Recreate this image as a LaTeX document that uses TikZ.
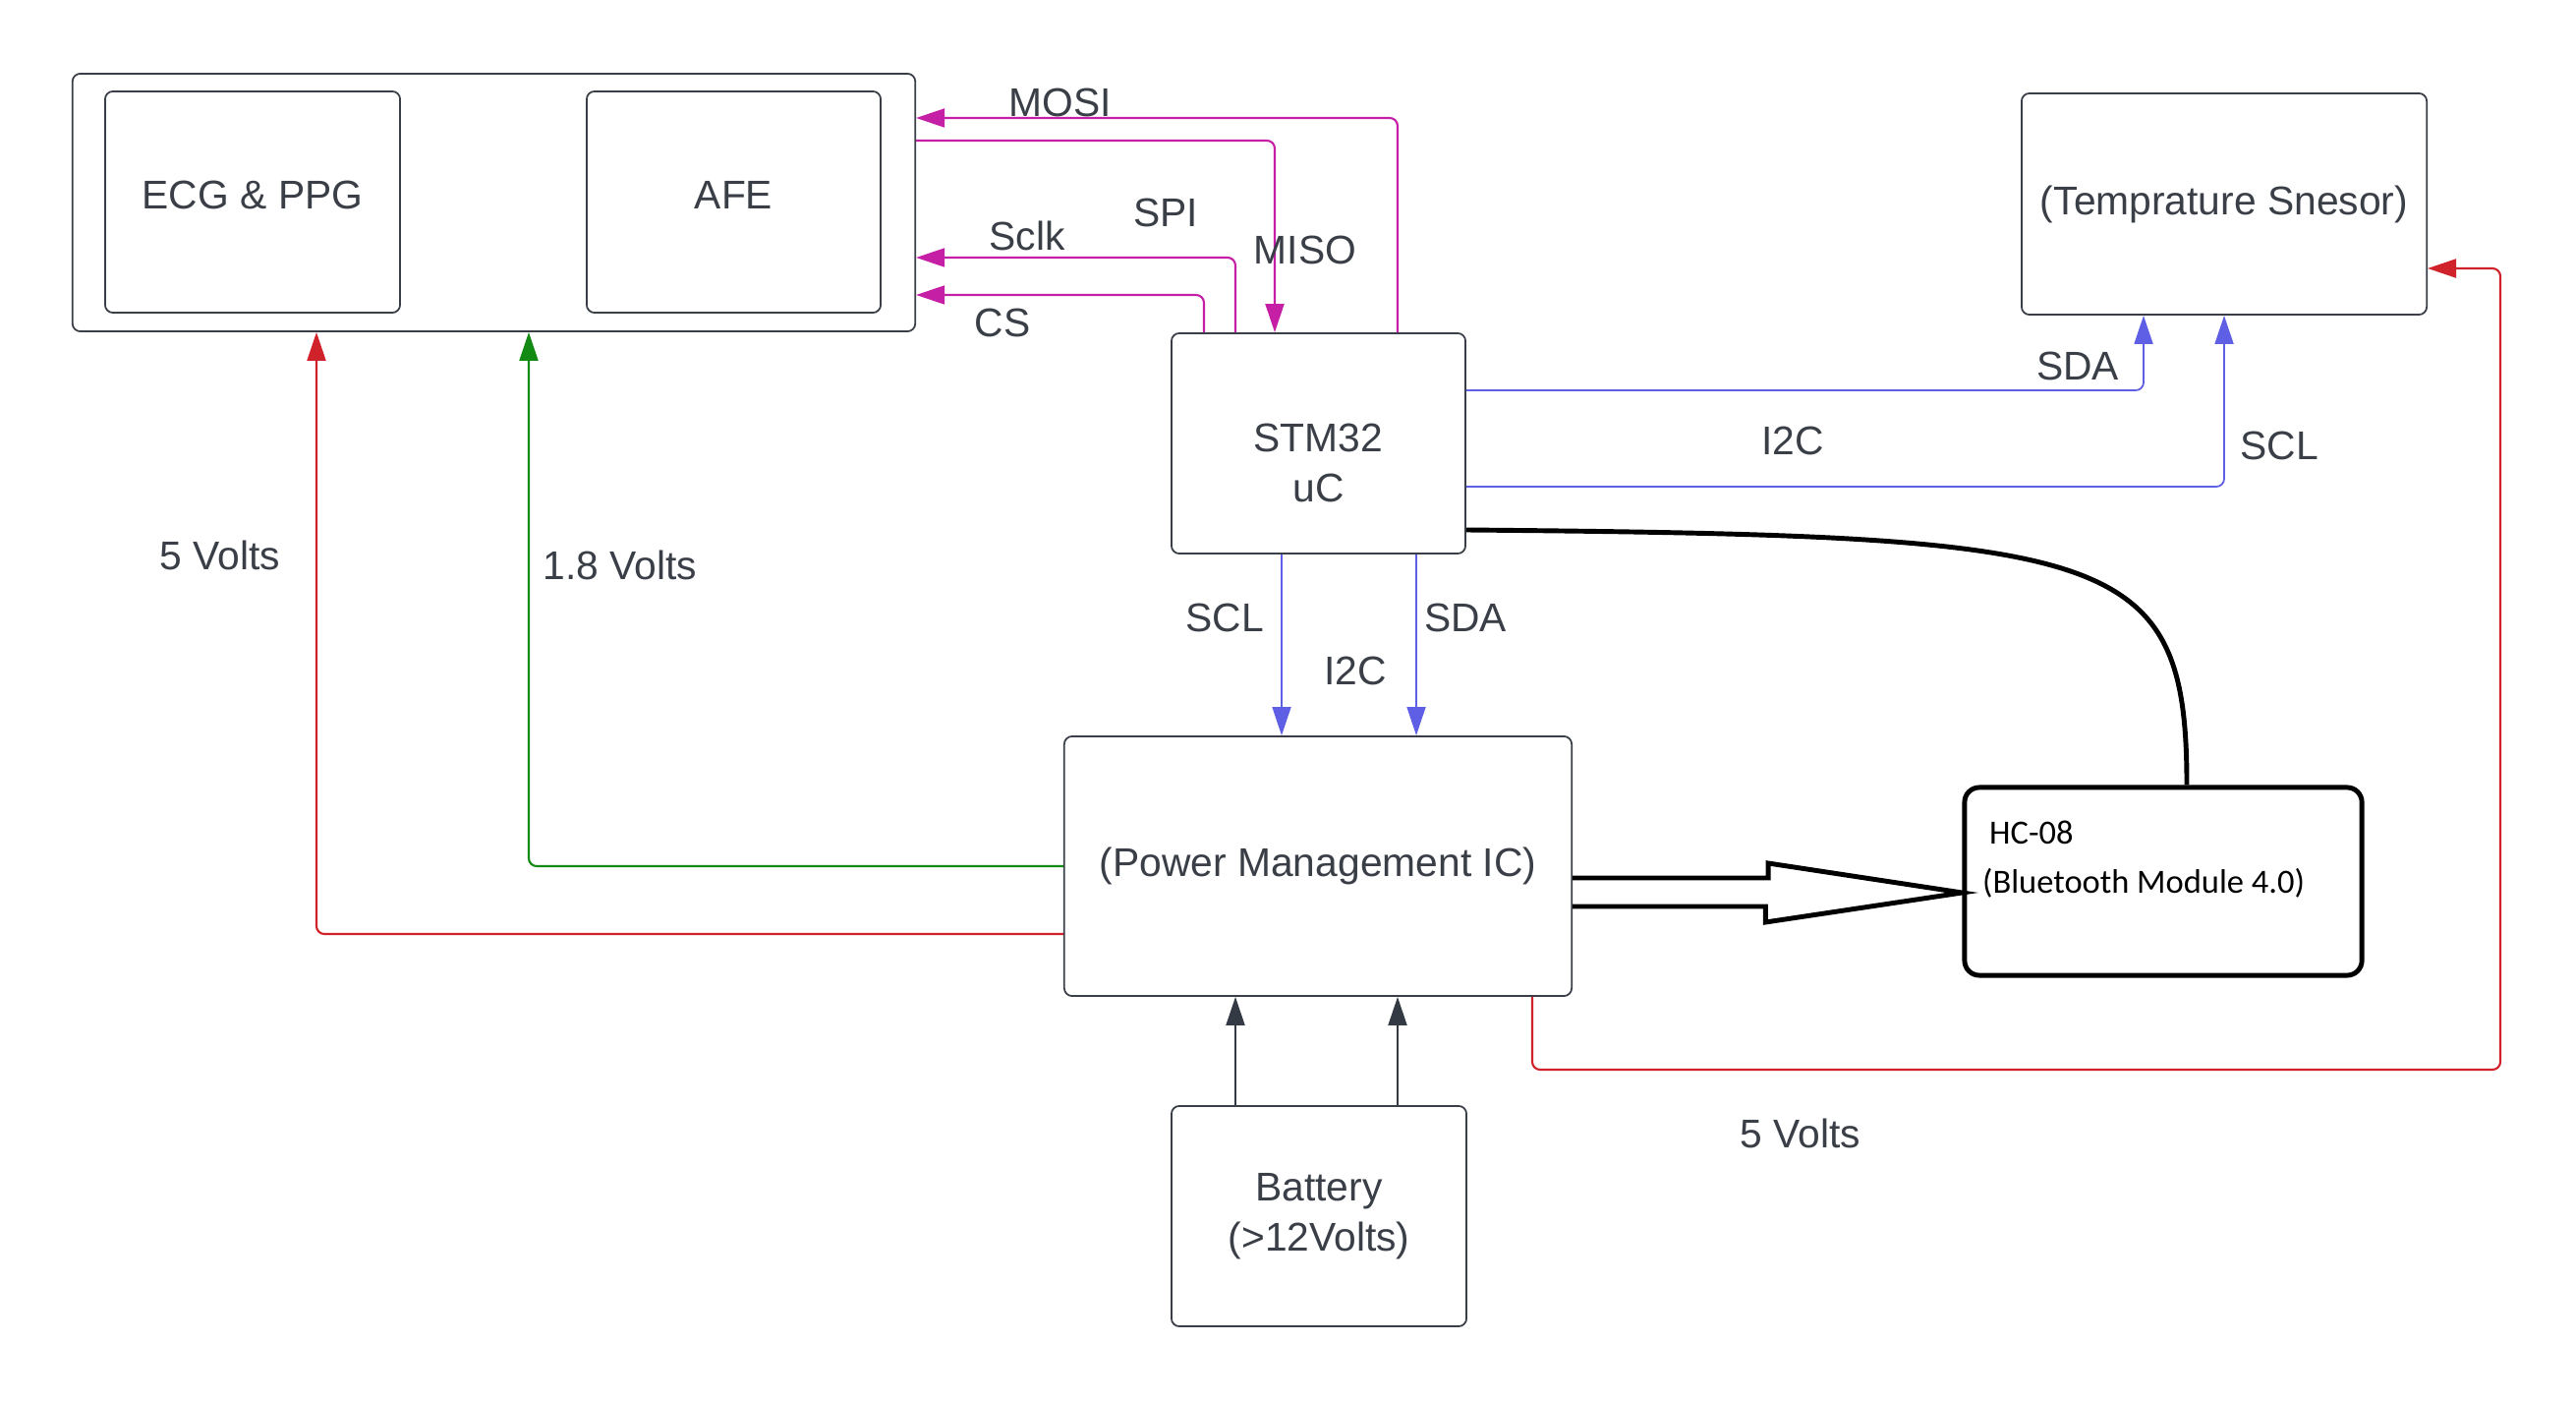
\documentclass[tikz,border=0pt]{standalone}
\usepackage{fontspec}
\setmainfont{Liberation Sans}
\newfontfamily\hcfont{Carlito}
\usetikzlibrary{arrows.meta,calc,positioning}

\definecolor{inkgray}{HTML}{3A3F47}
\definecolor{spicol}{HTML}{C51FA6}
\definecolor{i2ccol}{HTML}{5F5FE6}
\definecolor{redcol}{HTML}{D0222A}
\definecolor{greencol}{HTML}{138A13}
\definecolor{batcol}{HTML}{333A44}

\tikzset{
  tip/.style={-{Triangle[length=0.29cm,width=0.19cm]}},
  block/.style={draw=inkgray, line width=0.5pt, rounded corners=0.08cm, inner sep=0pt},
  btbox/.style={draw=black, line width=1.4pt, rounded corners=0.15cm, inner sep=0pt},
  spiline/.style={draw=spicol, line width=0.6pt, rounded corners=0.08cm, tip, spicol},
  i2cline/.style={draw=i2ccol, line width=0.5pt, rounded corners=0.08cm, tip, i2ccol},
  redline/.style={draw=redcol, line width=0.6pt, rounded corners=0.08cm, tip, redcol},
  greenline/.style={draw=greencol, line width=0.6pt, rounded corners=0.08cm, tip, greencol},
  batline/.style={draw=batcol, line width=0.6pt, tip, batcol}
}

\begin{document}
\begin{tikzpicture}[x=0.01cm, y=-0.01cm,
    every node/.style={align=center, text=inkgray, font=\fontsize{11.6}{14.5}\selectfont}]
    \useasboundingbox (0,0) rectangle (2621,1425);

    % blocks
    \node[block, minimum width=8.57cm, minimum height=2.62cm] (fe) at (502.5,206) {};
    \node[block, text depth=4pt, minimum width=3cm, minimum height=2.25cm] (ecg) at (257,205.5) {ECG \& PPG};
    \node[block, text depth=4pt, minimum width=2.99cm, minimum height=2.25cm] (afe) at (746.5,205.5) {AFE};
    \node[block, minimum width=2.99cm, minimum height=2.24cm,
          label={[name=stmtxt, yshift=-0.2cm]center:STM32\\uC}] (stm) at (1341.5,451) {};
    \node[block, minimum width=4.12cm, minimum height=2.25cm] (temp) at (2263,207.5) {(Temprature Snesor)};
    \node[block, minimum width=5.16cm, minimum height=2.64cm] (pmic) at (1341,881) {(Power Management IC)};
    \node[btbox, minimum width=4.04cm, minimum height=1.91cm] (hc) at (2201,896.5) {};
    \node[anchor=north west, align=left, inner sep=0pt, text=black,
          font=\hcfont\fontsize{9.8}{14.2}\selectfont] (hctxt) at ($(hc.north west)+(20,36)$)
          {\hspace*{2pt}HC-08\\(Bluetooth Module 4.0)};
    \node[block, minimum width=3cm, minimum height=2.24cm] (bat) at (1342,1237) {Battery\\(>12Volts)};

    % SPI
    \draw[spiline] ($(stm.north)+(80.5,0)$) |- ($(fe.east)+(0,-86)$);
    \draw[spiline] ($(fe.east)+(0,-63)$) -| ($(stm.north)+(-44.5,0)$);
    \draw[spiline] ($(stm.north)+(-84.5,0)$) |- ($(fe.east)+(0,56)$);
    \draw[spiline] ($(stm.north)+(-116.5,0)$) |- ($(fe.east)+(0,94)$);
    \node (mosi) at (1079,104) {MOSI};
    \node (spi) at (1186,216) {SPI};
    \node (sclk) at (1045,240) {Sclk};
    \node (miso) at (1328,254) {MISO};
    \node (cs) at (1020,328) {CS};

    % I2C to sensor
    \draw[i2cline] ($(stm.east)+(0,-54)$) -| ($(temp.south)+(-82,0)$);
    \draw[i2cline] ($(stm.east)+(0,44)$) -| (temp.south);
    \node (sdat) at (2114,372) {SDA};
    \node (i2ct) at (1824,448) {I2C};
    \node (sclt) at (2319,453) {SCL};

    % I2C to power IC
    \coordinate (scl) at ($(stm.south)+(-37.5,0)$);
    \coordinate (sda) at ($(stm.south)+(99.5,0)$);
    \draw[i2cline] (scl) -- (scl |- pmic.north);
    \draw[i2cline] (sda) -- (sda |- pmic.north);
    \node (sclb) at (1246,628) {SCL};
    \node (sdab) at (1491,628) {SDA};
    \node (i2cb) at (1379,682) {I2C};

    % supplies
    \draw[greenline] (pmic.west) -| ($(fe.south)+(35.5,0)$);
    \draw[redline] ($(pmic.west)+(0,69)$) -| ($(fe.south)+(-180.5,0)$);
    \coordinate (rtc) at (2544,1088);
    \draw[redline] ($(pmic.south)+(218,0)$) |- (rtc) |- ($(temp.east)+(0,65.5)$);
    \node (v5l) at (224,565) {5 Volts};
    \node (v18) at (631,575) {1.8 Volts};
    \node (v5b) at (1832,1153) {5 Volts};

    % battery
    \coordinate (b1) at ($(bat.north)+(-85,0)$);
    \coordinate (b2) at ($(bat.north)+(80,0)$);
    \draw[batline] (b1) -- (b1 |- pmic.south);
    \draw[batline] (b2) -- (b2 |- pmic.south);

    % bluetooth
    \draw[black, line width=1.4pt] ($(stm.east)+(0,88)$) .. controls +(659,6) and +(0,-241) .. ($(hc.north)+(24,0)$);
    \draw[black, line width=1.4pt, line join=miter] ($(pmic.east)+(0,12)$) -- ++(199,0) -- ++(0,-15)
        -- ($(hc.west)+(0,11.5)$) -- ++(-200,30) -- ++(0,-16) -- ($(pmic.east)+(0,41)$);
\end{tikzpicture}
\end{document}
